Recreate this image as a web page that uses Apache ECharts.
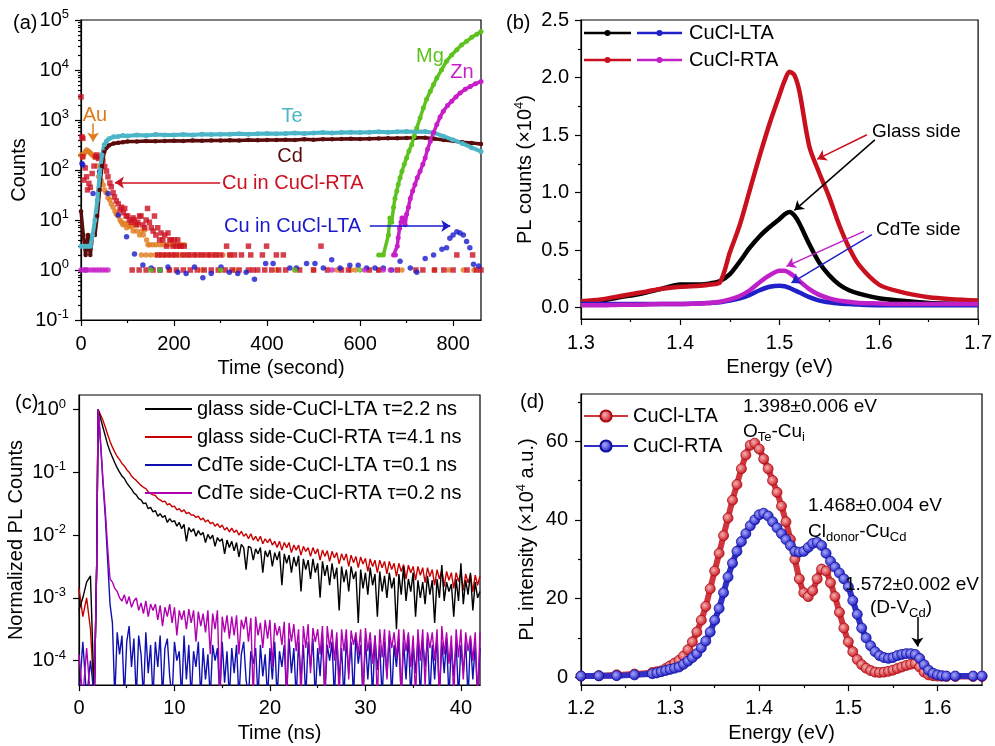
<!DOCTYPE html>
<html>
<head>
<meta charset="utf-8">
<script src="https://cdn.jsdelivr.net/npm/echarts@6/dist/echarts.min.js"></script>
<style>
  html, body { margin: 0; padding: 0; background: #fff; }
  #chart { width: 995px; height: 746px; }
</style>
</head>
<body>
<div id="chart"></div>
<script>
const FONT = 'Liberation Sans, Arial, Helvetica, sans-serif';

// ---------- (a) depth profile, counts vs time (s) ----------
const teTime = [0, 5, 10, 15, 20, 25, 30, 35, 40, 45, 50, 55, 60, 70, 80, 90, 100, 120, 140, 160, 180, 200, 220, 240, 260, 280, 300, 320, 340, 360, 380, 400, 420, 440, 460, 480, 500, 520, 540, 560, 580, 600, 620, 640, 660, 680, 700, 720, 740, 760, 780, 800, 820, 840, 860];
const teCounts = [3, 3, 3, 3, 3, 5, 10, 25, 80, 200, 320, 380, 420, 460, 470, 490, 480, 500, 490, 510, 500, 500, 510, 500, 520, 510, 520, 520, 530, 520, 530, 540, 530, 540, 550, 540, 550, 560, 550, 560, 570, 560, 570, 580, 570, 580, 590, 580, 590, 550, 470, 400, 340, 280, 235];
const cdCounts = [15, 5, 2, 5, 2, 5, 5, 12, 40, 120, 230, 280, 310, 340, 350, 360, 370, 370, 380, 375, 380, 385, 380, 390, 385, 390, 390, 395, 390, 400, 395, 400, 400, 405, 400, 410, 405, 410, 410, 415, 420, 415, 420, 425, 430, 430, 435, 440, 440, 420, 400, 380, 360, 345, 330];
const auPoints = [[0,200],[3,180],[6,210],[9,230],[12,250],[15,240],[18,230],[21,215],[24,200],[27,195],[30,180],[33,175],[36,120],[38,73],[41,90],[44,60],[48,50],[51,40],[54,35],[58,28],[62,25],[65,21],[69,18],[73,15],[76,13],[80,12],[84,10],[87,9],[90,8],[94,8.6],[98,7],[101,8],[105,7.4],[108,7.4],[112,6],[116,8],[119,6],[123,8],[126,5],[130,6],[134,5],[137,6.3],[141,4],[144,3.2],[148,3.2],[155,3.2],[162,3.2],[170,3.2],[177,3.2],[185,3.2],[193,3.2],[200,3.2],[208,3.2],[215,3.2],[222,3.2],[130,2],[140,2],[150,2],[160,2],[170,2],[180,2],[190,2],[200,2],[210,2],[220,2],[230,2],[245,2],[260,2],[275,2],[290,2],[305,2],[320,2],[190,1],[260,1],[300,1],[330,1],[420,1],[460,1],[500,1],[550,1],[580,1],[590,1],[640,1],[690,1],[760,1],[790,1],[822,1],[845,1]];
const cuRtaPoints = [[0,2900],[2,460],[4,430],[4,185],[6,63],[9,110],[12,73],[14,40],[17,54],[20,45],[24,85],[28,120],[31,185],[34,200],[38,170],[42,185],[47,150],[51,117],[55,95],[58,73],[62,55],[65,46],[69,35],[72,29],[76,24],[80,21],[84,16],[87,18],[91,14],[94,17],[97,12],[100,12],[104,10],[108,9],[112,11],[115,10],[119,8],[122,9],[126,12],[129,12],[133,8],[137,7],[140,10],[143,17],[147,9],[151,7],[155,6],[158,12],[161,5],[165,7],[169,4],[172,5.5],[176,4],[180,5],[184,3],[187,5.5],[191,4],[194,4],[198,3],[201,4],[205,3],[208,4],[212,3],[215,3],[222,3],[165,2],[175,2],[185,2],[195,2],[205,2],[219,2],[230,2],[240,2],[250,2],[260,2],[270,2],[280,2],[290,2],[300,2],[320,2],[330,2],[345,2],[365,2],[390,2],[420,2],[435,2],[808,2],[842,2],[313,3],[360,3],[399,3],[516,3],[110,1],[125,1],[140,1],[155,1],[170,1],[190,1],[205,1],[220,1],[235,1],[250,1],[265,1],[280,1],[295,1],[310,1],[325,1],[340,1],[360,1],[370,1],[380,1],[395,1],[410,1],[425,1],[440,1],[470,1],[500,1],[530,1],[560,1],[575,1],[620,1],[640,1],[680,1],[720,1],[735,1],[760,1],[780,1],[800,1],[830,1],[850,1],[860,1]];
const cuLtaPoints = [[2,135],[4,126],[10,1],[26,34],[40,93],[44,120],[58,34],[80,12.6],[98,4.6],[115,2.1],[133,1.26],[151,1.1],[170,1],[187,1.15],[208,0.9],[226,0.85],[244,1.15],[262,0.7],[280,0.85],[301,1.15],[319,0.9],[337,0.85],[355,0.9],[373,0.65],[397,1.35],[413,1.35],[449,1.1],[463,1.1],[485,1.35],[503,1.35],[521,1.1],[539,1.6],[557,1.1],[578,1.25],[596,1.25],[614,1.1],[632,1.1],[650,1.1],[668,1.0],[686,1.5],[708,1.1],[722,0.9],[740,1.7],[758,2],[776,2.6],[786,2.8],[793,4.3],[800,5],[808,5.8],[815,5.5],[822,5],[829,3.7],[836,2.8],[844,1.3],[855,1.2]];
const mgTime = [640, 645, 650, 661, 664, 668, 672, 675, 679, 682, 686, 690, 695, 700, 705, 711, 716, 722, 729, 736, 743, 751, 758, 765, 775, 786, 797, 808, 818, 829, 840, 851, 860];
const mgCounts = [2, 2, 2, 5, 11, 9, 18, 27, 38, 51, 70, 94, 130, 174, 240, 320, 470, 690, 1100, 1740, 2600, 3750, 5100, 6900, 10000, 15000, 20000, 25500, 31500, 37500, 45000, 52000, 59000];
const znTime = [672, 676, 680, 682, 685, 688, 690, 694, 697, 700, 704, 708, 713, 718, 723, 729, 735, 740, 745, 751, 758, 765, 772, 779, 788, 797, 806, 815, 826, 837, 848, 860];
const znCounts = [2, 2, 3, 4.4, 6.8, 9, 11, 11, 8, 13, 18, 27, 38, 51, 70, 94, 130, 174, 260, 375, 560, 810, 1150, 1500, 1950, 2370, 2900, 3470, 4100, 4700, 5300, 5900];
const mgOnesTime = [150, 170, 300, 460, 600];
const znOnesTime = [0, 5, 10, 15, 22, 28, 34, 40, 46, 52, 58, 540, 610, 650, 665];
const decadeTicksA = [-1, 0, 1, 2, 3, 4, 5];
const timeTicksA = [0, 200, 400, 600, 800];

// ---------- (b) PL spectra, counts x1e4 ----------
const energyB = [1.30, 1.32, 1.34, 1.36, 1.38, 1.40, 1.42, 1.43, 1.44, 1.45, 1.46, 1.47, 1.48, 1.49, 1.50, 1.505, 1.51, 1.515, 1.52, 1.53, 1.54, 1.55, 1.56, 1.57, 1.58, 1.60, 1.62, 1.65, 1.70];
const glassLta = [0.04, 0.06, 0.09, 0.12, 0.16, 0.2, 0.2, 0.21, 0.23, 0.29, 0.4, 0.52, 0.62, 0.7, 0.77, 0.81, 0.83, 0.8, 0.73, 0.55, 0.39, 0.28, 0.2, 0.15, 0.12, 0.08, 0.06, 0.04, 0.03];
const glassRta = [0.055, 0.07, 0.1, 0.13, 0.16, 0.18, 0.19, 0.2, 0.22, 0.48, 0.72, 1.02, 1.32, 1.6, 1.85, 1.97, 2.05, 2.02, 1.88, 1.4, 1.17, 0.96, 0.72, 0.52, 0.37, 0.2, 0.14, 0.09, 0.06];
const cdteLta = [0.03, 0.03, 0.03, 0.03, 0.03, 0.03, 0.035, 0.04, 0.045, 0.06, 0.08, 0.11, 0.15, 0.18, 0.19, 0.185, 0.17, 0.15, 0.13, 0.09, 0.06, 0.045, 0.035, 0.03, 0.025, 0.02, 0.02, 0.02, 0.02];
const cdteRta = [0.02, 0.02, 0.025, 0.025, 0.03, 0.03, 0.035, 0.04, 0.05, 0.07, 0.1, 0.15, 0.22, 0.28, 0.32, 0.32, 0.3, 0.27, 0.23, 0.16, 0.11, 0.08, 0.06, 0.05, 0.04, 0.035, 0.03, 0.03, 0.03];

// ---------- (c) TRPL, log10 of normalized counts ----------
const timeNs = [0, 0.4, 0.8, 1.2, 1.6, 1.85, 2.0, 2.15, 2.3, 2.5, 2.75, 3.0, 3.25, 3.5, 3.75,
  4.0, 4.25, 4.5, 4.75, 5.0, 5.25, 5.5, 5.75, 6.0, 6.25, 6.5, 6.75, 7.0, 7.25, 7.5, 7.75,
  8.0, 8.25, 8.5, 8.75, 9.0, 9.25, 9.5, 9.75, 10.0, 10.25, 10.5, 10.75, 11.0, 11.25, 11.5, 11.75,
  12.0, 12.25, 12.5, 12.75, 13.0, 13.25, 13.5, 13.75, 14.0, 14.25, 14.5, 14.75, 15.0, 15.25, 15.5, 15.75,
  16.0, 16.25, 16.5, 16.75, 17.0, 17.25, 17.5, 17.75, 18.0, 18.25, 18.5, 18.75, 19.0, 19.25, 19.5, 19.75,
  20.0, 20.25, 20.5, 20.75, 21.0, 21.25, 21.5, 21.75, 22.0, 22.25, 22.5, 22.75, 23.0, 23.25, 23.5, 23.75,
  24.0, 24.25, 24.5, 24.75, 25.0, 25.25, 25.5, 25.75, 26.0, 26.25, 26.5, 26.75, 27.0, 27.25, 27.5, 27.75,
  28.0, 28.25, 28.5, 28.75, 29.0, 29.25, 29.5, 29.75, 30.0, 30.25, 30.5, 30.75, 31.0, 31.25, 31.5, 31.75,
  32.0, 32.25, 32.5, 32.75, 33.0, 33.25, 33.5, 33.75, 34.0, 34.25, 34.5, 34.75, 35.0, 35.25, 35.5, 35.75,
  36.0, 36.25, 36.5, 36.75, 37.0, 37.25, 37.5, 37.75, 38.0, 38.25, 38.5, 38.75, 39.0, 39.25, 39.5, 39.75,
  40.0, 40.25, 40.5, 40.75, 41.0, 41.25, 41.5, 41.75, 42.0];
const logGlassLta = [-3.2, -3.0, -2.75, -2.65, -4.6, -2.5, 0, -0.08, -0.17, -0.28, -0.42, -0.56, -0.67, -0.76, -0.85,
  -0.93, -1.0, -1.06, -1.1, -1.17, -1.22, -1.27, -1.33, -1.36, -1.42, -1.44, -1.5, -1.49, -1.58, -1.56, -1.63,
  -1.61, -1.7, -1.66, -1.72, -1.69, -1.8, -1.74, -1.79, -1.77, -1.86, -1.8, -1.9, -1.83, -2.1, -1.88, -1.95,
  -1.9, -2.02, -1.93, -2.0, -1.96, -2.12, -1.99, -2.06, -2.0, -2.18, -2.04, -2.1, -2.06, -2.3, -2.08, -2.2,
  -2.1, -2.25, -2.12, -2.35, -2.15, -2.2, -2.55, -2.18, -2.2, -2.4, -2.22, -2.3, -2.2, -2.6, -2.25, -2.35,
  -2.24, -2.5, -2.28, -2.4, -2.26, -2.8, -2.3, -2.45, -2.32, -2.6, -2.35, -2.5, -2.33, -2.9, -2.38, -2.55,
  -2.4, -2.7, -2.38, -2.6, -2.45, -3.0, -2.42, -2.65, -2.48, -2.8, -2.45, -2.7, -2.52, -3.2, -2.5, -2.75,
  -2.55, -2.9, -2.5, -2.7, -2.58, -3.4, -2.55, -2.85, -2.6, -2.95, -2.52, -2.8, -2.62, -3.3, -2.58, -2.9,
  -2.65, -3.0, -2.6, -2.85, -2.68, -3.5, -2.62, -2.95, -2.5, -3.05, -2.7, -2.9, -2.6, -3.3, -2.72, -3.0,
  -2.75, -3.1, -2.65, -2.95, -2.72, -3.4, -2.7, -3.0, -2.48, -3.05, -2.75, -2.9, -2.78, -3.3, -2.7, -3.05,
  -2.45, -3.1, -2.72, -2.95, -2.6, -3.2, -2.75, -3.0, -2.9];
const logGlassRta = [-2.85, -3.3, -3.0, -3.5, -4.6, -2.5, 0, -0.05, -0.1, -0.17, -0.28, -0.4, -0.51, -0.6, -0.68,
  -0.75, -0.8, -0.86, -0.9, -0.96, -1.0, -1.06, -1.1, -1.13, -1.17, -1.21, -1.24, -1.26, -1.31, -1.34, -1.36,
  -1.37, -1.42, -1.44, -1.47, -1.46, -1.52, -1.5, -1.55, -1.54, -1.6, -1.58, -1.63, -1.6, -1.66, -1.64, -1.68,
  -1.68, -1.72, -1.7, -1.76, -1.73, -1.79, -1.76, -1.82, -1.8, -1.86, -1.82, -1.88, -1.84, -1.92, -1.88, -1.95,
  -1.89, -1.96, -1.92, -2.0, -1.94, -2.02, -1.98, -2.06, -1.98, -2.08, -2.02, -2.1, -2.02, -2.14, -2.06, -2.12,
  -2.06, -2.16, -2.1, -2.2, -2.1, -2.24, -2.12, -2.2, -2.12, -2.28, -2.16, -2.24, -2.16, -2.32, -2.18, -2.26,
  -2.2, -2.34, -2.2, -2.3, -2.22, -2.4, -2.24, -2.34, -2.25, -2.42, -2.26, -2.36, -2.28, -2.46, -2.3, -2.4,
  -2.3, -2.5, -2.32, -2.44, -2.34, -2.52, -2.35, -2.46, -2.37, -2.58, -2.38, -2.5, -2.4, -2.6, -2.4, -2.52,
  -2.42, -2.62, -2.42, -2.55, -2.45, -2.66, -2.45, -2.58, -2.47, -2.7, -2.48, -2.6, -2.5, -2.72, -2.5, -2.64,
  -2.52, -2.76, -2.52, -2.66, -2.55, -2.8, -2.55, -2.7, -2.56, -2.82, -2.58, -2.72, -2.6, -2.85, -2.6, -2.74,
  -2.6, -2.88, -2.62, -2.76, -2.63, -2.9, -2.64, -2.8, -2.65];
const logCdteLta = [-4.6, -3.7, -4.6, -4.0, -4.6, -2.5, 0, -0.3, -0.65, -1.15, -1.7, -2.4, -3.1, -3.4, -4.6,
  -3.55, -3.9, -3.6, -4.6, -3.7, -3.45, -4.1, -3.65, -4.6, -3.6, -3.9, -4.6, -3.55, -4.2, -3.75, -4.6,
  -3.7, -4.1, -3.6, -4.6, -3.8, -3.65, -4.25, -4.6, -3.7, -4.0, -3.85, -4.6, -3.6, -4.3, -3.75, -4.6,
  -3.85, -4.1, -3.7, -4.6, -3.8, -4.3, -3.9, -4.6, -3.75, -4.0, -3.8, -4.6, -3.7, -4.35, -3.85, -4.6,
  -3.8, -4.2, -3.75, -4.6, -3.9, -3.7, -4.3, -4.6, -3.85, -4.05, -3.8, -4.6, -3.75, -4.25, -3.9, -4.6,
  -3.8, -4.3, -3.7, -4.6, -3.85, -4.1, -3.75, -4.6, -3.65, -4.2, -3.8, -4.6, -3.7, -4.3, -3.75, -4.6,
  -3.7, -4.1, -3.65, -4.6, -3.8, -4.25, -3.6, -4.6, -3.75, -4.0, -3.7, -4.6, -3.65, -4.3, -3.8, -4.6,
  -3.65, -4.2, -3.7, -4.6, -3.6, -4.05, -3.75, -4.6, -3.65, -4.3, -3.7, -4.6, -3.6, -4.15, -3.75, -4.6,
  -3.7, -4.25, -3.6, -4.6, -3.75, -4.1, -3.65, -4.6, -3.7, -4.3, -3.6, -4.6, -3.75, -4.2, -3.65, -4.6,
  -3.7, -4.1, -3.65, -4.6, -3.75, -4.3, -3.6, -4.6, -3.7, -4.2, -3.65, -4.6, -3.75, -4.25, -3.7, -4.6,
  -3.75, -4.2, -3.7, -4.6, -3.65, -4.3, -3.75, -4.6, -3.8];
const logCdteRta = [-3.9, -4.6, -3.8, -4.6, -4.6, -2.5, 0, -0.25, -0.6, -1.1, -1.6, -2.2, -2.7, -2.75, -2.85,
  -2.9, -3.0, -3.05, -2.95, -3.1, -2.98, -3.15, -3.05, -3.0, -3.2, -3.08, -3.25, -3.05, -3.3, -3.1, -3.2,
  -3.1, -3.35, -3.12, -3.45, -3.15, -3.3, -3.1, -3.4, -3.15, -3.6, -3.2, -3.35, -3.2, -3.5, -3.18, -3.4,
  -3.2, -3.7, -3.22, -3.45, -3.25, -3.55, -3.2, -3.9, -3.25, -3.5, -3.2, -4.6, -3.3, -3.55, -3.28, -3.65,
  -3.3, -3.6, -3.28, -3.9, -3.35, -3.5, -3.3, -3.7, -3.32, -4.6, -3.3, -3.6, -3.4, -3.8, -3.35, -3.65,
  -3.35, -4.1, -3.4, -3.6, -3.45, -3.75, -3.38, -4.6, -3.4, -3.7, -3.42, -3.85, -3.5, -4.6, -3.45, -3.8,
  -3.42, -4.2, -3.48, -3.7, -3.5, -3.9, -3.45, -4.6, -3.45, -3.8, -3.5, -4.0, -3.55, -4.6, -3.5, -3.85,
  -3.5, -4.3, -3.52, -3.75, -3.55, -3.9, -3.5, -4.6, -3.48, -3.85, -3.55, -4.05, -3.6, -4.6, -3.5, -3.95,
  -3.5, -4.3, -3.52, -3.8, -3.55, -3.95, -3.5, -4.6, -3.5, -3.85, -3.55, -4.1, -3.6, -4.6, -3.5, -4.0,
  -3.5, -4.4, -3.55, -3.8, -3.55, -4.0, -3.5, -4.6, -3.45, -3.9, -3.55, -4.05, -3.6, -4.6, -3.5, -3.95,
  -3.5, -4.3, -3.55, -3.85, -3.6, -4.0, -3.55, -4.6, -3.55];
const decadeTicksC = [-4, -3, -2, -1, 0];
const timeTicksC = [0, 10, 20, 30, 40];
const legendC = ['glass side-CuCl-LTA \u03c4=2.2 ns', 'glass side-CuCl-RTA \u03c4=4.1 ns', 'CdTe side-CuCl-LTA \u03c4=0.1 ns', 'CdTe side-CuCl-RTA \u03c4=0.2 ns'];

// ---------- (d) PL intensity x1e4 a.u. ----------
const energyD = [1.20, 1.22, 1.24, 1.26, 1.28, 1.285, 1.29, 1.295, 1.30, 1.305, 1.31, 1.315, 1.32, 1.325, 1.33, 1.335, 1.34, 1.345, 1.35, 1.355, 1.36, 1.365, 1.37, 1.375, 1.38, 1.385, 1.39, 1.395, 1.40, 1.405, 1.41, 1.415, 1.42, 1.425, 1.43, 1.435, 1.44, 1.445, 1.45, 1.455, 1.46, 1.465, 1.47, 1.475, 1.48, 1.485, 1.49, 1.495, 1.50, 1.505, 1.51, 1.515, 1.52, 1.525, 1.53, 1.535, 1.54, 1.545, 1.55, 1.555, 1.56, 1.565, 1.57, 1.575, 1.58, 1.585, 1.59, 1.595, 1.60, 1.605, 1.61, 1.62, 1.64, 1.65];
const ltaD = [0.3, 0.4, 0.6, 0.8, 1.2, 1.4, 1.6, 2.2, 2.9, 3.6, 4.3, 5.4, 7, 9, 11.5, 14.5, 18, 22.5, 27, 31.5, 36, 40.5, 45, 49, 53, 56.5, 59, 59.5, 58, 55.5, 53, 50, 47, 43.5, 39.5, 35, 30, 25, 21.5, 20.5, 22, 25, 27.5, 27, 24, 20.5, 16.5, 12.5, 9, 6.5, 4.5, 3.2, 2.3, 1.7, 1.3, 1.2, 1.3, 1.5, 1.8, 2.2, 2.6, 3.0, 3.3, 3.5, 2.6, 1.3, 0.6, 0.4, 0.3, 0.25, 0.2, 0.2, 0.2, 0.2];
const rtaD = [0.3, 0.35, 0.4, 0.6, 0.9, 1.1, 1.4, 1.7, 2.0, 2.3, 2.6, 3.3, 4.1, 5.0, 6.0, 7.5, 9.2, 11.5, 14.5, 17.5, 21.5, 25.5, 29, 32, 34.5, 36.5, 38.5, 40, 41.3, 41.7, 41, 39.5, 38, 36.5, 35, 33.5, 32, 31.8, 32, 33, 34, 34.3, 33.5, 31.5, 29.5, 28, 26.5, 25, 23, 19.5, 16, 12.5, 10, 8, 6.5, 5.5, 5, 4.8, 5, 5.5, 5.8, 6, 6, 5.8, 4.8, 3.2, 1.8, 1, 0.6, 0.4, 0.3, 0.3, 0.3, 0.3];

// ---------- helpers ----------
const log = v => Math.log10(v);
const zip = (xs, ys, f) => xs.map((x, i) => [x, f ? f(ys[i]) : ys[i]]);
const sup = { s: { fontSize: 13, lineHeight: 12, verticalAlign: 'top' } };
const decFmt = v => '10{s|' + Math.round(v) + '}';
const fix1 = v => v.toFixed(1);
const intFmt = v => String(Math.round(v));

const xAxes = [], yAxes = [];
function addAxis(list, o) {
  const tickStyle = { color: '#000', width: 1.2 };
  list.push({
    type: 'value', gridIndex: o.grid, min: o.min, max: o.max, position: o.pos,
    axisLine: { show: true, onZero: false, lineStyle: tickStyle },
    axisTick: { show: true, customValues: o.major, length: 6, lineStyle: tickStyle },
    axisLabel: {
      customValues: o.major, formatter: o.fmt, margin: o.margin, color: '#000',
      fontSize: 20, fontFamily: FONT, lineHeight: 24, rich: sup
    },
    splitLine: { show: false },
    name: o.name, nameLocation: 'middle', nameGap: o.gap,
    nameTextStyle: { color: '#000', fontSize: 20, fontFamily: FONT, lineHeight: 24, rich: sup }
  });
  const idx = list.length - 1;
  if (o.minor) {
    list.push({
      type: 'value', gridIndex: o.grid, min: o.min, max: o.max, position: o.pos,
      axisLine: { show: false, onZero: false },
      axisTick: { show: true, customValues: o.minor, length: 3, lineStyle: tickStyle },
      axisLabel: { show: false }, splitLine: { show: false }
    });
  }
  return idx;
}

const minorDecA = [];
for (let n = -1; n < 5; n++) for (let k = 2; k <= 9; k++) minorDecA.push(n + log(k));

const grids = [
  { left: 81, top: 20, width: 400, height: 300 },
  { left: 581, top: 20, width: 401, height: 299 },
  { left: 79, top: 395, width: 401, height: 299 },
  { left: 581, top: 394, width: 401, height: 304 }
].map(g => Object.assign(g, { show: true, borderColor: '#000', borderWidth: 1.2, backgroundColor: 'transparent' }));

const xa = addAxis(xAxes, { grid: 0, min: 0, max: 860, pos: 'bottom', major: timeTicksA, minor: [100, 300, 500, 700], fmt: intFmt, margin: 12, name: 'Time (second)', gap: 30 });
const ya = addAxis(yAxes, { grid: 0, min: -1, max: 5, pos: 'left', major: decadeTicksA, minor: minorDecA, fmt: decFmt, margin: 12, name: 'Counts', gap: 49 });
const xb = addAxis(xAxes, { grid: 1, min: 1.3, max: 1.7, pos: 'bottom', major: [1.3, 1.4, 1.5, 1.6, 1.7], minor: [1.35, 1.45, 1.55, 1.65], fmt: fix1, margin: 12, name: 'Energy (eV)', gap: 31 });
const yb = addAxis(yAxes, { grid: 1, min: -0.1, max: 2.5, pos: 'left', major: [0, 0.5, 1, 1.5, 2, 2.5], minor: [0.25, 0.75, 1.25, 1.75, 2.25], fmt: fix1, margin: 12, name: 'PL counts (\u00d710{s|4})', gap: 35 });
const xc = addAxis(xAxes, { grid: 2, min: 0, max: 42, pos: 'bottom', major: timeTicksC, minor: [5, 15, 25, 35], fmt: intFmt, margin: 11, name: 'Time (ns)', gap: 30 });
const yc = addAxis(yAxes, { grid: 2, min: -4.39, max: 0.23, pos: 'left', major: decadeTicksC, fmt: decFmt, margin: 13, name: 'Normalized PL Counts', gap: 38 });
const xd = addAxis(xAxes, { grid: 3, min: 1.2, max: 1.65, pos: 'bottom', major: [1.2, 1.3, 1.4, 1.5, 1.6], minor: [1.25, 1.35, 1.45, 1.55], fmt: fix1, margin: 11, name: 'Energy (eV)', gap: 28 });
const yd = addAxis(yAxes, { grid: 3, min: -2, max: 72, pos: 'left', major: [0, 20, 40, 60], minor: [10, 30, 50, 70], fmt: intFmt, margin: 13, name: 'PL intensity (\u00d710{s|4} a.u.)', gap: 42 });

function arrow(color, from, to) {
  return {
    silent: true, symbol: ['none', 'arrow'], symbolSize: 9,
    label: { show: false },
    lineStyle: { color: color, width: 1.5, type: 'solid' },
    data: [[{ coord: from }, { coord: to }]]
  };
}

const C = {
  te: '#4cb6c8', cd: '#5a0c0c', au: '#e07b1c', cuR: '#cc1020', cuL: '#1a1acc', mg: '#5ec21e', zn: '#c81ec8'
};

const series = [];
// (a)
const onA = { xAxisIndex: xa, yAxisIndex: ya };
series.push(Object.assign({ type: 'line', name: 'Cd', data: zip(teTime, cdCounts, log), lineStyle: { width: 3.5, color: C.cd }, itemStyle: { color: C.cd }, symbol: 'circle', symbolSize: 4.5, showAllSymbol: true }, onA));
series.push(Object.assign({ type: 'line', name: 'Te', data: zip(teTime, teCounts, log), lineStyle: { width: 4, color: C.te }, itemStyle: { color: C.te }, symbol: 'circle', symbolSize: 5, showAllSymbol: true }, onA));
series.push(Object.assign({ type: 'scatter', name: 'Au', data: auPoints.map(p => [p[0], log(p[1])]), symbolSize: 5.5, itemStyle: { color: C.au },
  markLine: arrow(C.au, [26, log(850)], [26, log(370)]) }, onA));
series.push(Object.assign({ type: 'scatter', name: 'Cu RTA', data: cuRtaPoints.map(p => [p[0], log(p[1])]), symbol: 'rect', symbolSize: 5.5, itemStyle: { color: C.cuR },
  markLine: arrow(C.cuR, [299, log(56)], [73, log(56)]) }, onA));
series.push(Object.assign({ type: 'scatter', name: 'Cu LTA', data: cuLtaPoints.map(p => [p[0], log(p[1])]), symbolSize: 5.5, itemStyle: { color: C.cuL },
  markLine: arrow(C.cuL, [621, log(7.6)], [794, log(7.6)]) }, onA));
series.push(Object.assign({ type: 'scatter', name: 'Mg base', data: mgOnesTime.map(t => [t, 0]), symbolSize: 5.5, itemStyle: { color: C.mg } }, onA));
series.push(Object.assign({ type: 'scatter', name: 'Zn base', data: znOnesTime.map(t => [t, 0]), symbolSize: 5.5, itemStyle: { color: C.zn } }, onA));
series.push(Object.assign({ type: 'line', name: 'Mg', data: zip(mgTime, mgCounts, log), lineStyle: { width: 3.5, color: C.mg }, itemStyle: { color: C.mg }, symbol: 'circle', symbolSize: 5, showAllSymbol: true }, onA));
series.push(Object.assign({ type: 'line', name: 'Zn', data: zip(znTime, znCounts, log), lineStyle: { width: 3.5, color: C.zn }, itemStyle: { color: C.zn }, symbol: 'circle', symbolSize: 5, showAllSymbol: true }, onA));

// (b)
const onB = { xAxisIndex: xb, yAxisIndex: yb };
const B = { k: '#000000', r: '#c8101e', b: '#2020c8', m: '#c020c8' };
function specB(name, ys, color, mk) {
  return Object.assign({ type: 'line', name: name, data: zip(energyB, ys), smooth: 0.3, symbol: 'none', lineStyle: { width: 4.5, color: color }, itemStyle: { color: color }, markLine: mk }, onB);
}
series.push(specB('glass LTA', glassLta, B.k, arrow(B.k, [1.596, 1.458], [1.515, 0.845])));
series.push(specB('glass RTA', glassRta, B.r, arrow(B.r, [1.588, 1.502], [1.538, 1.29])));
series.push(specB('CdTe LTA', cdteLta, B.b, arrow(B.b, [1.593, 0.634], [1.512, 0.214])));
series.push(specB('CdTe RTA', cdteRta, B.m, arrow(B.m, [1.585, 0.662], [1.507, 0.358])));

// (c)
const onC = { xAxisIndex: xc, yAxisIndex: yc };
function trace(name, ys, color) {
  return Object.assign({ type: 'line', name: name, data: zip(timeNs, ys), symbol: 'none', lineStyle: { width: 1.4, color: color }, itemStyle: { color: color } }, onC);
}
series.push(trace(legendC[1], logGlassRta, '#c80000'));
series.push(trace(legendC[0], logGlassLta, '#000000'));
series.push(trace(legendC[2], logCdteLta, '#1010b0'));
series.push(trace(legendC[3], logCdteRta, '#b000b0'));

// (d)
const onD = { xAxisIndex: xd, yAxisIndex: yd };
function ball(light, base) {
  return { type: 'radial', x: 0.4, y: 0.4, r: 0.6, colorStops: [{ offset: 0, color: light }, { offset: 1, color: base }] };
}
series.push(Object.assign({ type: 'line', name: 'CuCl-LTA', data: zip(energyD, ltaD), smooth: 0.3, symbol: 'circle', symbolSize: 10, showAllSymbol: true,
  lineStyle: { width: 6, color: '#d0343c' }, itemStyle: { color: ball('#f7b0b0', '#c8141e'), borderColor: '#a80c14', borderWidth: 0.8 },
  markLine: arrow('#000', [1.5775, 15.3], [1.5775, 7.8]) }, onD));
series.push(Object.assign({ type: 'line', name: 'CuCl-RTA', data: zip(energyD, rtaD), smooth: 0.3, symbol: 'circle', symbolSize: 10, showAllSymbol: true,
  lineStyle: { width: 6, color: '#3030c8' }, itemStyle: { color: ball('#a8a8ff', '#1818c0'), borderColor: '#10109a', borderWidth: 0.8 } }, onD));

// ---------- annotations ----------
function txt(x, y, text, color, size, align, rich) {
  return {
    type: 'text', x: x, y: y, silent: true, z: 100,
    style: {
      text: text, fill: color, fontSize: size, fontFamily: FONT,
      align: align || 'left', textAlign: align || 'left', verticalAlign: 'middle', textVerticalAlign: 'middle',
      lineHeight: 24, rich: rich
    }
  };
}
const subRich = { b: { fontSize: 13, lineHeight: 12, verticalAlign: 'bottom' } };
function legLine(x1, x2, y, color) {
  return [
    { type: 'line', silent: true, shape: { x1: x1, y1: y, x2: x2, y2: y }, style: { stroke: color, lineWidth: 2.5 } },
    { type: 'circle', silent: true, shape: { cx: (x1 + x2) / 2, cy: y, r: 3 }, style: { fill: color } }
  ];
}

const graphic = [
  txt(13, 23, '(a)', '#000', 20),
  txt(292, 116, 'Te', C.te, 20, 'center'),
  txt(290, 156, 'Cd', C.cd, 20, 'center'),
  txt(95, 115, 'Au', C.au, 20, 'center'),
  txt(222, 183, 'Cu in CuCl-RTA', C.cuR, 20),
  txt(224, 226, 'Cu in CuCl-LTA', C.cuL, 20),
  txt(430, 56, 'Mg', C.mg, 20, 'center'),
  txt(462, 72, 'Zn', C.zn, 20, 'center'),
  txt(506, 23, '(b)', '#000', 20),
  txt(689, 33, 'CuCl-LTA', '#000', 20),
  txt(689, 60, 'CuCl-RTA', '#000', 20),
  txt(872, 132, 'Glass side', '#000', 19),
  txt(876, 230, 'CdTe side', '#000', 19),
  txt(15, 403, '(c)', '#000', 20),
  txt(520, 402, '(d)', '#000', 20),
  txt(743, 407, '1.398\u00b10.006 eV', '#000', 19),
  txt(743, 432, 'O{b|Te}-Cu{b|i}', '#000', 19, 'left', subRich),
  txt(808, 506, '1.468\u00b10.004 eV', '#000', 19),
  txt(808, 532, 'Cl{b|donor}-Cu{b|Cd}', '#000', 19, 'left', subRich),
  txt(845, 585, '1.572\u00b10.002 eV', '#000', 19),
  txt(870, 608, '(D-V{b|Cd})', '#000', 19, 'left', subRich)
].concat(
  legLine(584, 631, 33, B.k), legLine(637, 682, 33, B.b),
  legLine(584, 631, 60, B.r), legLine(637, 682, 60, B.m)
);

const chart = echarts.init(document.getElementById('chart'), null, { renderer: 'canvas' });
chart.setOption({
  animation: false,
  backgroundColor: '#fff',
  textStyle: { fontFamily: FONT },
  grid: grids,
  xAxis: xAxes,
  yAxis: yAxes,
  legend: [
    { data: legendC.map(n => ({ name: n, icon: 'rect' })), left: 145, top: 398, orient: 'vertical', itemWidth: 47, itemHeight: 2, itemGap: 6, padding: 0,
      textStyle: { fontSize: 20, lineHeight: 22, fontFamily: FONT, color: '#000' }, selectedMode: false },
    { data: ['CuCl-LTA', 'CuCl-RTA'], left: 583, top: 406, orient: 'vertical', itemWidth: 44, itemHeight: 14, itemGap: 10, padding: 0,
      textStyle: { fontSize: 20, fontFamily: FONT, color: '#000' }, selectedMode: false }
  ],
  series: series,
  graphic: graphic
});
</script>
</body>
</html>
